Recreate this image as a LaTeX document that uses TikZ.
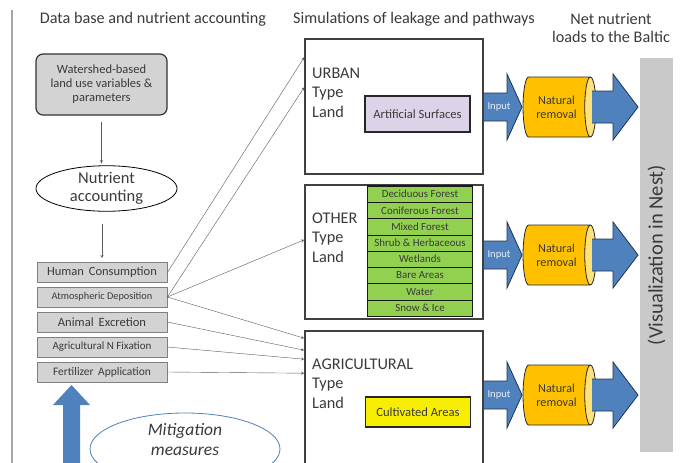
\documentclass[tikz,border=0pt]{standalone}
\usepackage{fontspec}
\setmainfont{Carlito}
\usetikzlibrary{shapes.geometric,calc,positioning}
\definecolor{txtgray}{HTML}{3A3A3A}
\definecolor{boxgray}{HTML}{D3D3D3}
\definecolor{lavend}{HTML}{DDD3E8}
\definecolor{grass}{HTML}{92D050}
\definecolor{cultiv}{HTML}{F7EE00}
\definecolor{steel}{HTML}{4F81BD}
\definecolor{steeldark}{HTML}{1F3350}
\definecolor{gold}{HTML}{FFC000}
\definecolor{goldlight}{HTML}{FFE17A}
\definecolor{bargray}{HTML}{C9C9C9}
\tikzstyle{header} = [text=txtgray, font=\fontsize{16.2}{18}\selectfont, align=center]
\tikzstyle{wsbox} = [draw=black!80, very thick, fill=boxgray, rectangle,
    rounded corners=7pt, minimum width=131pt, minimum height=61pt,
    align=center, text=txtgray, font=\fontsize{12.5}{14}\selectfont]
\tikzstyle{acct} = [draw=black, thick, ellipse, minimum width=141pt,
    minimum height=43pt, inner sep=0pt, align=center, text=txtgray,
    font=\fontsize{16.5}{18}\selectfont]
\tikzstyle{srcbox} = [draw=black!50, thick, fill=boxgray, minimum width=130pt,
    minimum height=20pt, inner sep=0pt, text=txtgray]
\tikzstyle{landbox} = [draw=black!75, line width=1.6pt, minimum width=178pt]
\tikzstyle{landlabel} = [font=\fontsize{16.3}{19.5}\selectfont, align=left,
    anchor=base west, inner sep=0pt, text=txtgray]
\tikzstyle{cover} = [draw=black!85, line width=1.4pt, minimum width=105pt,
    text=txtgray, font=\fontsize{12.6}{14}\selectfont]
\tikzstyle{forestrow} = [draw=black!90, fill=grass, minimum width=105pt,
    minimum height=16.25pt, inner sep=0pt, text=txtgray,
    font=\fontsize{10.9}{12}\selectfont]
\tikzstyle{feed} = [draw=black!65, -stealth]
\tikzstyle{blockarrow} = [draw=steeldark, thick, fill=steel, line join=miter]
\tikzstyle{removal} = [cylinder, draw=black!85, thick, cylinder uses custom fill,
    cylinder body fill=gold, cylinder end fill=goldlight, shape aspect=0.5,
    minimum width=60pt, minimum height=73pt, inner sep=0pt, align=center,
    text=txtgray, font=\fontsize{12.2}{14}\selectfont]

\begin{document}
\begin{tikzpicture}[x=1pt,y=-1pt]
\useasboundingbox (0,0) rectangle (688,463);
\draw[black!35, line width=1.5pt] (12,10) -- (12,463);

\node[header] (hdb) at (153,19) {Data base and nutrient accounting};
\node[header] (hsim) at (414,19) {Simulations of leakage and pathways};
\node[header] (hnet) at (611,28) {Net nutrient\\loads to the Baltic};

\node[wsbox] (ws) at (101.5,84.5) {Watershed-based\\land use variables \&\\parameters};
\node[acct] (acc) at (106.5,188.5) {Nutrient\\accounting};
\node[srcbox, font=\fontsize{12.5}{14}\selectfont] (hum) at (102,272.5) {Human\, Consumption};
\node[srcbox, font=\fontsize{10.3}{12}\selectfont] (atm) at (102,297) {Atmospheric Deposition};
\node[srcbox, font=\fontsize{12.6}{14}\selectfont] (ani) at (102,322) {Animal\, Excretion};
\node[srcbox, font=\fontsize{11}{13}\selectfont] (fix) at (102,347) {Agricultural N Fixation};
\node[srcbox, font=\fontsize{11.5}{13}\selectfont] (fer) at (102,372) {Fertilizer\, Application};
\draw[feed, shorten <=6pt, shorten >=2pt] (ws.south) -- (ws.south |- acc.north);
\draw[feed, shorten <=12pt, shorten >=4pt] (hum.north |- acc.south) -- (hum.north);

% mitigation
\fill[steel] (63,470) -- (63,405) -- (53,405) -- (71.5,385) -- (90,405) -- (80,405) -- (80,470) -- cycle;
\node[ellipse, draw=steel, thick, minimum width=190pt, minimum height=72pt] (mit) at (185,449) {};
\node[align=center, font=\itshape\fontsize{17.5}{20}\selectfont, text=txtgray] (mittext) at (185,440) {Mitigation\\measures};

\node[landbox, minimum height=135pt] (urb) at (394,106.5) {};
\node[landbox, minimum height=134pt] (oth) at (394,252) {};
\node[landbox, minimum height=144pt] (agr) at (394,403) {};
\node[landlabel] (urbl) at (312,117) {URBAN\\Type\\Land};
\node[landlabel] (othl) at (312,262) {OTHER\\Type\\Land};
\node[landlabel] (agrl) at (312,408) {AGRICULTURAL\\Type\\Land};

\node[cover, fill=lavend, minimum height=36pt] (art) at (417.5,114) {Artificial Surfaces};
\node[cover, fill=cultiv, minimum height=30pt] (cult) at (418,412) {Cultivated Areas};
\foreach \name [count=\i] in {Deciduous Forest, Coniferous Forest, Mixed Forest,
    Shrub \& Herbaceous, Wetlands, Bare Areas, Water, Snow \& Ice}
  \node[forestrow] (f\i) at (420,{177.9+\i*16.25}) {\name};
\draw[black!90, thick] (f1.north west) rectangle (f8.south east);

\draw[feed] (hum.east) -- ($(urb.north west)!0.14!(urb.south west)$);
\draw[feed] (atm.east) -- ($(urb.north west)!0.36!(urb.south west)$);
\draw[feed] (atm.east) -- ($(oth.north west)!0.41!(oth.south west)$);
\draw[feed] (atm.east) -- ($(agr.north west)+(0,8)$);
\draw[feed] (ani.east) -- ($(agr.north west)+(0,20)$);
\draw[feed] (fix.east) -- ($(agr.north west)+(0,29)$);
\draw[feed] (fer.east) -- ($(agr.north west)+(0,43)$);

% input -> natural removal -> load
\foreach \r/\yy in {u/107, o/255, a/395} {
  \filldraw[blockarrow] (484,{\yy-14}) -- (507,{\yy-14}) -- (507,{\yy-33}) -- (522,\yy)
    -- (507,{\yy+33}) -- (507,{\yy+14}) -- (484,{\yy+14});
  \node[text=white!88!steel, font=\fontsize{10.6}{12}\selectfont] (in\r) at (499,\yy) {Input};
  \node[removal] (rm\r) at (556.5,\yy) {Natural\\removal};
  \filldraw[blockarrow] (592,{\yy-16}) -- (613,{\yy-16}) -- (613,{\yy-33}) -- (638,\yy)
    -- (613,{\yy+33}) -- (613,{\yy+16}) -- (592,{\yy+16});
}

\node[fill=bargray, rotate=90, minimum width=394pt, minimum height=33pt,
    inner sep=0pt, text=txtgray, font=\fontsize{20.5}{22}\selectfont] (viz) at (656.5,255) {(Visualization in Nest)};
\end{tikzpicture}
\end{document}
